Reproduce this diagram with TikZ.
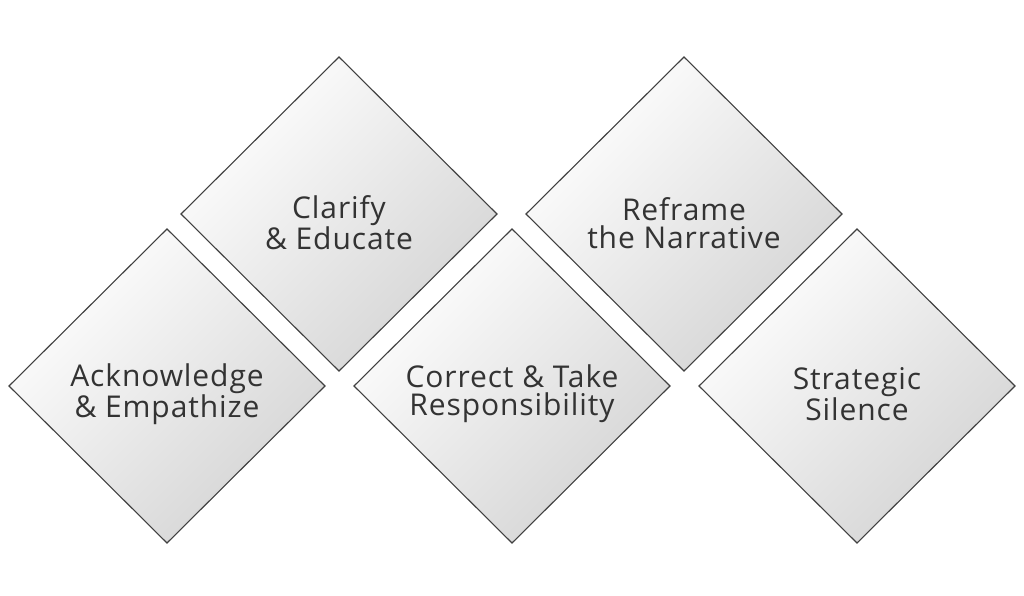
\documentclass[tikz,border=0pt]{standalone}
\usepackage{fontspec}
\setmainfont{Open Sans}[LetterSpace=3]
\begin{document}
\begin{tikzpicture}[x=1pt,y=-1pt,
  dia/.style={draw=black!75,line width=1.1pt,shading=axis,top color=white,bottom color=black!17,shading angle=45},
  lbl/.style={align=center,text=black!80,font=\fontsize{30}{28}\selectfont}]
\useasboundingbox (0,0) rectangle (1024,596);
\foreach \cx/\cy in {167/386,339/214,512/386,684/214,857/386}{
  \shade[dia] (\cx-158,\cy) -- (\cx,\cy-157) -- (\cx+158,\cy) -- (\cx,\cy+157) -- cycle;
}
\node[lbl] (a) at (167,394) {Acknowledge\\\& Empathize};
\node[lbl] (b) at (339,223) {Clarify\\\& Educate};
\node[lbl] (c) at (512,394) {Correct \& Take\\Responsibility};
\node[lbl] (d) at (684,223) {Reframe\\the Narrative};
\node[lbl] (e) at (857,394) {Strategic\\Silence};
\end{tikzpicture}
\end{document}
